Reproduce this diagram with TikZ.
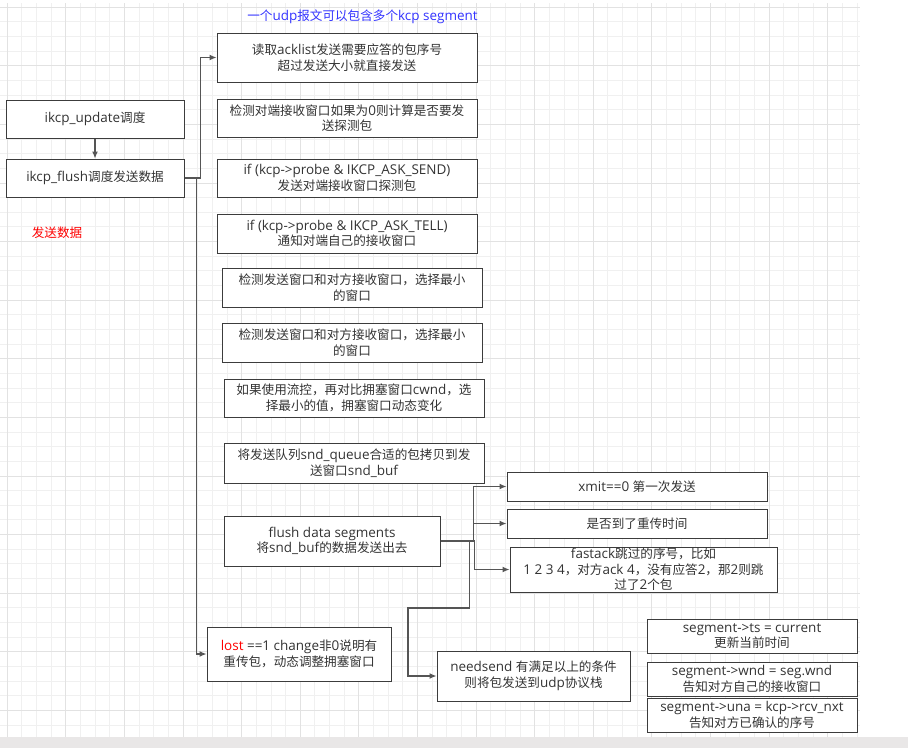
\documentclass[tikz,border=0pt]{standalone}
\usepackage{fontspec}
\setmainfont{Open Sans}[Scale=1.07]
\newfontfamily\zh{Noto Sans CJK SC}
\usetikzlibrary{arrows.meta}
\definecolor{txt}{RGB}{51,51,51}
\definecolor{bord}{RGB}{60,60,60}
\definecolor{conn}{RGB}{85,85,85}
\definecolor{gminor}{RGB}{240,240,240}
\definecolor{gmajor}{RGB}{226,226,226}
\definecolor{band}{RGB}{233,231,231}
\definecolor{dioblue}{RGB}{51,51,255}
\tikzset{
  box/.style={draw=bord, line width=1pt, fill=white, inner sep=0pt, align=center,
    text=txt, font=\fontsize{12.6}{15.5}\selectfont},
  arr/.style={draw=conn, line width=1.2pt, -{Latex[length=7pt,width=6pt]}},
  gmin/.style={draw=gminor, line width=1pt},
  gmaj/.style={draw=gmajor, line width=1pt},
  lbl/.style={inner sep=0pt, font=\fontsize{12.6}{15.5}\selectfont}
}
\begin{document}
\begin{tikzpicture}[x=1pt,y=-1pt]
\useasboundingbox (0,0) rectangle (908,748);
\fill[white] (0,0) rectangle (908,748);
% grid
\foreach \i in {0,...,58} {\draw[gmin] ({7.3+14.65*\i},3) -- ({7.3+14.65*\i},737);}
\foreach \j in {0,...,49} {\draw[gmin] (0,{7.2+14.65*\j}) -- (860,{7.2+14.65*\j});}
\foreach \i in {0,...,14} {\draw[gmaj] ({7.3+58.6*\i},3) -- ({7.3+58.6*\i},737);}
\foreach \j in {0,...,12} {\draw[gmaj] (0,{7.2+58.6*\j}) -- (860,{7.2+58.6*\j});}
\fill[band] (0,737) rectangle (908,748);

% title texts
\node[lbl, text=dioblue] (title) at (362.5,17) {{\zh 一个}udp{\zh 报文可以包含多个}kcp segment};
\node[lbl, text=red] (send) at (57,233) {{\zh 发送数据}};

% left boxes
\node[box, minimum width=178pt, minimum height=38pt] (U) at (95,119) {ikcp\_update{\zh 调度}};
\node[box, minimum width=178pt, minimum height=38pt] (V) at (95,178) {ikcp\_flush{\zh 调度发送数据}};

% middle column
\node[box, minimum width=260pt, minimum height=49pt] (A) at (347,57.5) {{\zh 读取}acklist{\zh 发送需要应答的包序号}\\{\zh 超过发送大小就直接发送}};
\node[box, minimum width=260pt, minimum height=38pt] (B) at (347,118) {{\zh 检测对端接收窗口如果为}0{\zh 则计算是否要发}\\{\zh 送探测包}};
\node[box, minimum width=260pt, minimum height=38pt] (C) at (347,178) {if (kcp->probe \& IKCP\_ASK\_SEND)\\{\zh 发送对端接收窗口探测包}};
\node[box, minimum width=260pt, minimum height=39pt] (D) at (347,233.5) {if (kcp->probe \& IKCP\_ASK\_TELL)\\{\zh 通知对端自己的接收窗口}};
\node[box, minimum width=260pt, minimum height=39pt] (E) at (352,287.5) {{\zh 检测发送窗口和对方接收窗口，选择最小}\\{\zh 的窗口}};
\node[box, minimum width=260pt, minimum height=39pt] (F) at (352,342.5) {{\zh 检测发送窗口和对方接收窗口，选择最小}\\{\zh 的窗口}};
\node[box, minimum width=260pt, minimum height=38pt] (G) at (354,398) {{\zh 如果使用流控，再对比拥塞窗口}cwnd{\zh ，选}\\{\zh 择最小的值，拥塞窗口动态变化}};
\node[box, minimum width=260pt, minimum height=40pt] (H) at (354,463) {{\zh 将发送队列}snd\_queue{\zh 合适的包拷贝到发}\\{\zh 送窗口}snd\_buf};
\node[box, minimum width=216pt, minimum height=50pt] (I) at (332,541) {flush data segments\\{\zh 将}snd\_buf{\zh 的数据发送出去}};
\node[box, minimum width=184pt, minimum height=54pt] (J) at (299,654) {{\color{red}lost} ==1 change{\zh 非}0{\zh 说明有}\\{\zh 重传包，动态调整拥塞窗口}};
\node[box, minimum width=193pt, minimum height=50pt] (K) at (533.5,676) {needsend {\zh 有满足以上的条件}\\{\zh 则将包发送到}udp{\zh 协议栈}};

% right column
\node[box, minimum width=260pt, minimum height=29pt] (L) at (637,486.5) {xmit==0 {\zh 第一次发送}};
\node[box, minimum width=260pt, minimum height=29pt] (M) at (637,523.5) {{\zh 是否到了重传时间}};
\node[box, minimum width=267pt, minimum height=45pt] (N) at (643.5,569.5) {fastack{\zh 跳过的序号，比如}\\1 2 3 4{\zh ，对方}ack 4{\zh ，没有应答}2{\zh ，那}2{\zh 则跳}\\{\zh 过了}2{\zh 个包}};
\node[box, minimum width=210pt, minimum height=34pt] (O) at (752,636) {segment->ts = current\\{\zh 更新当前时间}};
\node[box, minimum width=210pt, minimum height=34pt] (P) at (752,679) {segment->wnd = seg.wnd\\{\zh 告知对方自己的接收窗口}};
\node[box, minimum width=210pt, minimum height=34pt] (Q) at (752,715) {segment->una = kcp->rcv\_nxt\\{\zh 告知对方已确认的序号}};

% connectors
\draw[arr] (U) -- (V);
\draw[arr] (V.east) -- ++(16,0) |- (A.west);
\draw[arr] (V.east) -- ++(12,0) |- (J.west);
\draw[arr] (I.east) -- ++(33,0) |- (L.west);
\draw[arr] (I.east) -- ++(33,0) |- (M.west);
\draw[arr] (I.east) -- ++(34,0) |- (N.west);
\coordinate (k1) at (408,608);
\draw[arr] (I.east) -- ++(29,0) |- (k1) |- (K.west);
\end{tikzpicture}
\end{document}
